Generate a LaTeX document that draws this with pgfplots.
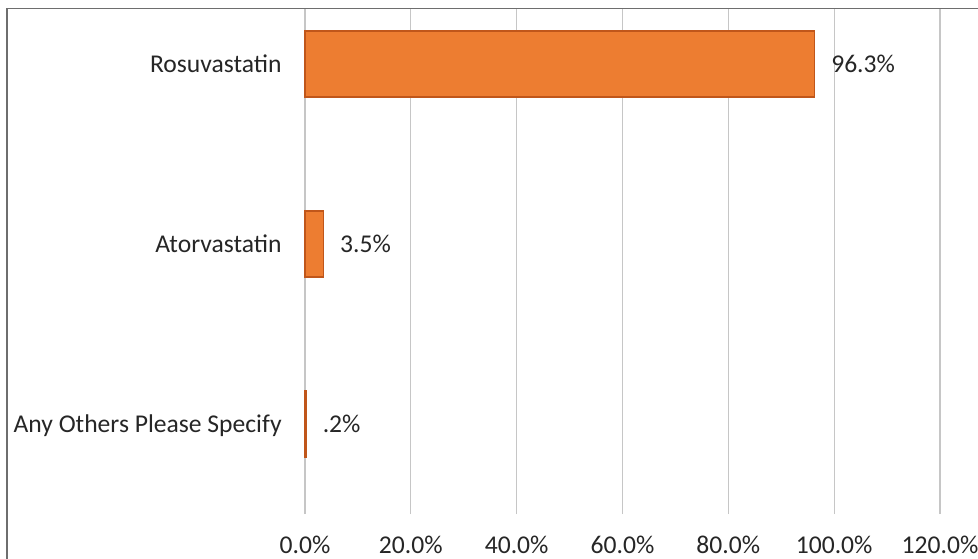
\documentclass[border=0pt]{standalone}
\usepackage{pgfplots}
\pgfplotsset{compat=1.18}
\usepackage{fontspec}
\setmainfont{Carlito}
\definecolor{barfill}{HTML}{ED7D31}
\definecolor{baredge}{HTML}{C0561A}
\definecolor{gridgray}{HTML}{C6C6C6}
\definecolor{txt}{HTML}{262626}
\definecolor{framegray}{HTML}{6E6E6E}
\newcommand{\lblfont}{\fontsize{12.8bp}{15bp}\selectfont}
\begin{document}
\begin{tikzpicture}
\lblfont
\begin{axis}[
  at={(0,0)}, anchor=south west,
  scale only axis,
  width=317.5bp, height=252.5bp,
  xbar, bar width=33bp,
  xmin=0, xmax=120,
  ymin=-0.5, ymax=2.306,
  axis line style={draw=none},
  major tick length=0pt,
  xtick={0,20,40,60,80,100,120},
  xticklabels={0.0\%,20.0\%,40.0\%,60.0\%,80.0\%,100.0\%,120.0\%},
  xmajorgrids, grid style={gridgray, line width=0.6bp},
  ytick={0,1,2},
  yticklabels={Any Others Please Specify,Atorvastatin,Rosuvastatin},
  xticklabel style={anchor=base, inner sep=0pt, yshift=-19.5bp, text=txt, font=\lblfont},
  yticklabel style={anchor=base east, inner sep=0pt, xshift=-11.5bp, yshift=-4.2bp, text=txt, font=\lblfont},
  clip=false,
  nodes near coords={\pgfplotspointmeta},
  point meta=explicit symbolic,
  nodes near coords style={anchor=west, inner sep=0pt, xshift=8bp, text=txt, font=\lblfont},
]
\addplot[fill=barfill, draw=baredge, line width=0.7bp] table[meta=lab] {
x    y  lab
0.2  0  .2\%
3.5  1  3.5\%
96.3 2  96.3\%
};
\end{axis}
% outer frame of the chart area
\draw[framegray, line width=0.8bp] (-149bp,-40bp) -- (-149bp,252.75bp) -- (400bp,252.75bp);
\pgfresetboundingbox
\useasboundingbox (-152.5bp,-22.5bp) rectangle (336.5bp,257bp);
\end{tikzpicture}
\end{document}
